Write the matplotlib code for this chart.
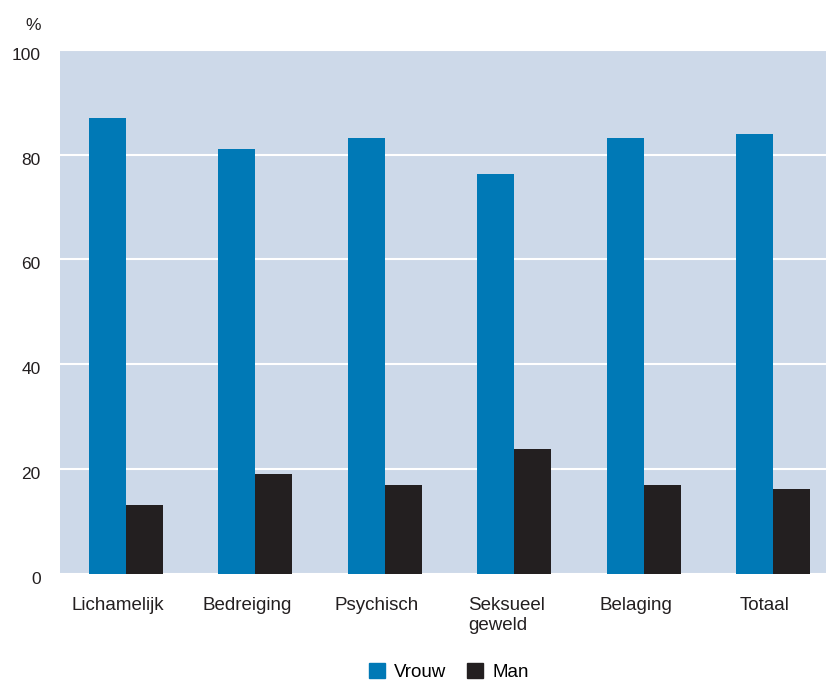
import numpy as np
import matplotlib.pyplot as plt
from matplotlib.patches import Patch
from matplotlib.transforms import ScaledTranslation

categories = ['Lichamelijk', 'Bedreiging', 'Psychisch', 'Seksueel\ngeweld', 'Belaging', 'Totaal']
vrouw = [87.0, 81.1, 83.2, 76.3, 83.2, 83.9]
man = [13.1, 19.0, 16.9, 23.8, 16.9, 16.1]

blue = '#0079b6'
dark = '#231f20'
bg = '#cdd9e9'

plt.rcParams['font.family'] = ['Liberation Sans', 'DejaVu Sans']

fig = plt.figure(figsize=(8.26, 6.82), dpi=100)
ax = fig.add_axes([60 / 826, 1 - 573.5 / 682, 766 / 826, 523.5 / 682])
ax.set_facecolor(bg)

# group spacing ~129 px, axes 766 px wide
x = np.arange(len(categories)) + 0.51
w = 0.286
ax.bar(x - w / 2, vrouw, w, color=blue, zorder=3)
ax.bar(x + w / 2, man, w, color=dark, zorder=3)

ax.set_xlim(0, 766 / 129.4)
ax.set_ylim(0, 100)
ax.set_yticks([0, 20, 40, 60, 80, 100])
ax.yaxis.grid(True, color='white', linewidth=1.5, zorder=1)
ax.set_axisbelow(True)
for s in ax.spines.values():
    s.set_visible(False)
ax.tick_params(length=0, colors='#231f20')
ax.tick_params(axis='y', pad=14, labelsize=12.5)
ax.tick_params(axis='x', pad=17, labelsize=13.5)
ax.set_xticks(x)
ax.set_xticklabels(categories, linespacing=1.2, va='top')
# labels sit a little left of the bar groups in the original
shift = ScaledTranslation(-8 / 100, 0, fig.dpi_scale_trans)
for lbl in ax.get_xticklabels():
    lbl.set_horizontalalignment('center')
    lbl.set_multialignment('left')
    lbl.set_transform(lbl.get_transform() + shift)
down = ScaledTranslation(0, -4 / 100, fig.dpi_scale_trans)
for lbl in ax.get_yticklabels():
    lbl.set_transform(lbl.get_transform() + down)

fig.text(33 / 826, 1 - 25 / 682, '%', fontsize=12.5, color='#231f20', ha='center', va='center')

handles = [Patch(color=blue, label='Vrouw'), Patch(color=dark, label='Man')]
fig.legend(handles=handles, loc='center', bbox_to_anchor=(449 / 826, 1 - 672 / 682), ncol=2,
           frameon=False, fontsize=13.5, handlelength=0.85, handleheight=0.85,
           handletextpad=0.5, columnspacing=1.1, borderpad=0.2)

fig.savefig('out.png', dpi=100)
